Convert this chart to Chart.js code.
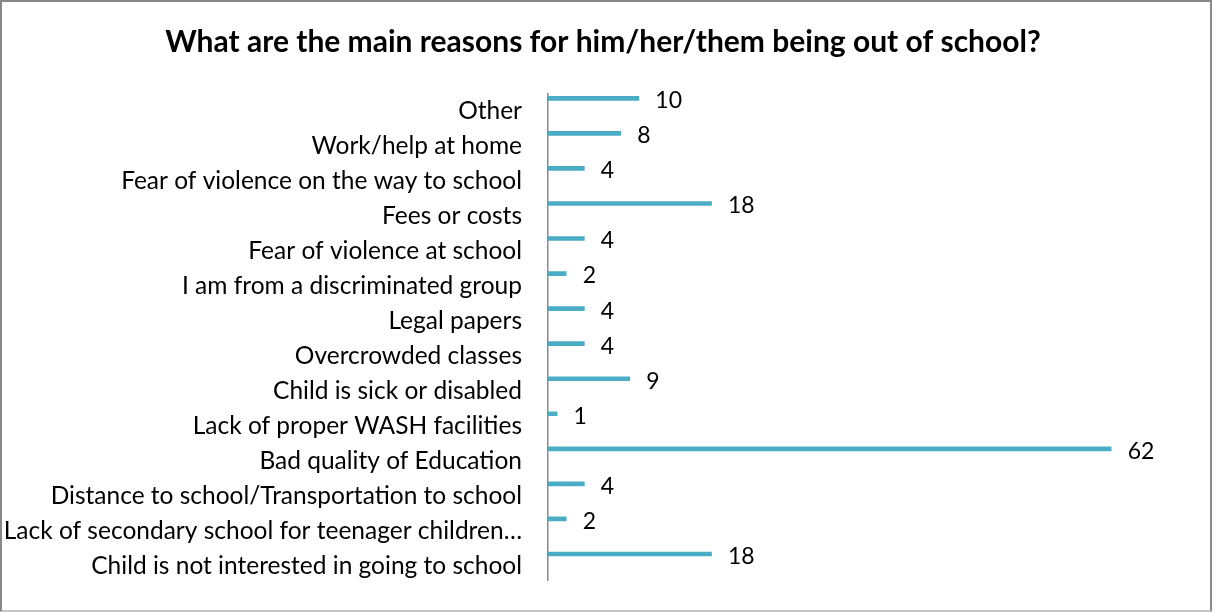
<!DOCTYPE html>
<html>
<head>
<meta charset="utf-8">
<script src="https://cdn.jsdelivr.net/npm/chart.js@4/dist/chart.umd.min.js"></script>
<style>
  html, body { margin: 0; padding: 0; background: #fff; }
  #wrap { position: relative; width: 1212px; height: 612px; }
  #c { position: absolute; left: 0; top: 0; }
  .frame {
    position: absolute; left: 0; top: 0; width: 1212px; height: 612px;
    box-sizing: border-box; pointer-events: none;
    border-left: 2px solid #878787; border-top: 2px solid #878787;
    border-right: 2px solid #8a8a8a; border-bottom: 2px solid #c4c4c4;
  }
</style>
</head>
<body>
<div id="wrap">
  <canvas id="c" width="1212" height="612"></canvas>
  <div class="frame"></div>
</div>
<script>
// Reasons given, top to bottom
const categories = [
  'Other',
  'Work/help at home',
  'Fear of violence on the way to school',
  'Fees or costs',
  'Fear of violence at school',
  'I am from a discriminated group',
  'Legal papers',
  'Overcrowded classes',
  'Child is sick or disabled',
  'Lack of proper WASH facilities',
  'Bad quality of Education',
  'Distance to school/Transportation to school',
  'Lack of secondary school for teenager children\u2026',
  'Child is not interested in going to school'
];
// Number of responses per reason
const counts = [10, 8, 4, 18, 4, 2, 4, 4, 9, 1, 62, 4, 2, 18];

const titleText = 'What are the main reasons for him/her/them being out of school?';
const FONT = 'Lato, "Open Sans", sans-serif';
const CAT_SIZE = 24.5;
const VALUE_SIZE = 23;

// Bars are placed on a numeric row axis so each reason sits at its row index
const points = counts.map((v, i) => ({ x: v, y: i }));

// Writes each count just past the end of its bar
const valueLabels = {
  id: 'valueLabels',
  afterDatasetsDraw(chart) {
    const { ctx } = chart;
    const meta = chart.getDatasetMeta(0);
    ctx.save();
    ctx.font = VALUE_SIZE + 'px ' + FONT;
    ctx.fillStyle = '#000';
    ctx.textAlign = 'left';
    ctx.textBaseline = 'middle';
    meta.data.forEach((bar, i) => {
      ctx.fillText(String(counts[i]), bar.x + 16.5, bar.y + 2.5);
    });
    ctx.restore();
  }
};

new Chart(document.getElementById('c'), {
  type: 'bar',
  data: {
    datasets: [{
      data: points,
      backgroundColor: '#4BACC6',
      borderWidth: 0,
      barThickness: 4
    }]
  },
  options: {
    indexAxis: 'y',
    responsive: false,
    animation: false,
    events: [],
    layout: { padding: { left: 4, right: 10, top: 0, bottom: 31.5 } },
    plugins: {
      legend: { display: false },
      tooltip: { enabled: false },
      title: {
        display: true,
        text: titleText,
        color: '#000',
        font: { family: FONT, size: 30, weight: 'bold', lineHeight: 1.2 },
        padding: { top: 24.5, bottom: 33 }
      }
    },
    scales: {
      x: {
        type: 'linear',
        display: false,
        offset: false,
        min: 0,
        max: 72
      },
      y: {
        type: 'linear',
        reverse: true,
        offset: false,
        min: -0.137,
        max: 13.756,
        grid: { display: false, drawTicks: false },
        border: { display: true, color: '#898989', width: 1.5 },
        ticks: {
          stepSize: 1,
          includeBounds: false,
          autoSkip: false,
          padding: 26,
          labelOffset: 12.5,
          color: '#000',
          font: { family: FONT, size: CAT_SIZE, lineHeight: 0.2 },
          callback: (v) => (Number.isInteger(v) && categories[v] !== undefined) ? categories[v] : ''
        },
        afterFit: (scale) => { scale.width = 544; }
      }
    }
  },
  plugins: [valueLabels]
});
</script>
</body>
</html>
